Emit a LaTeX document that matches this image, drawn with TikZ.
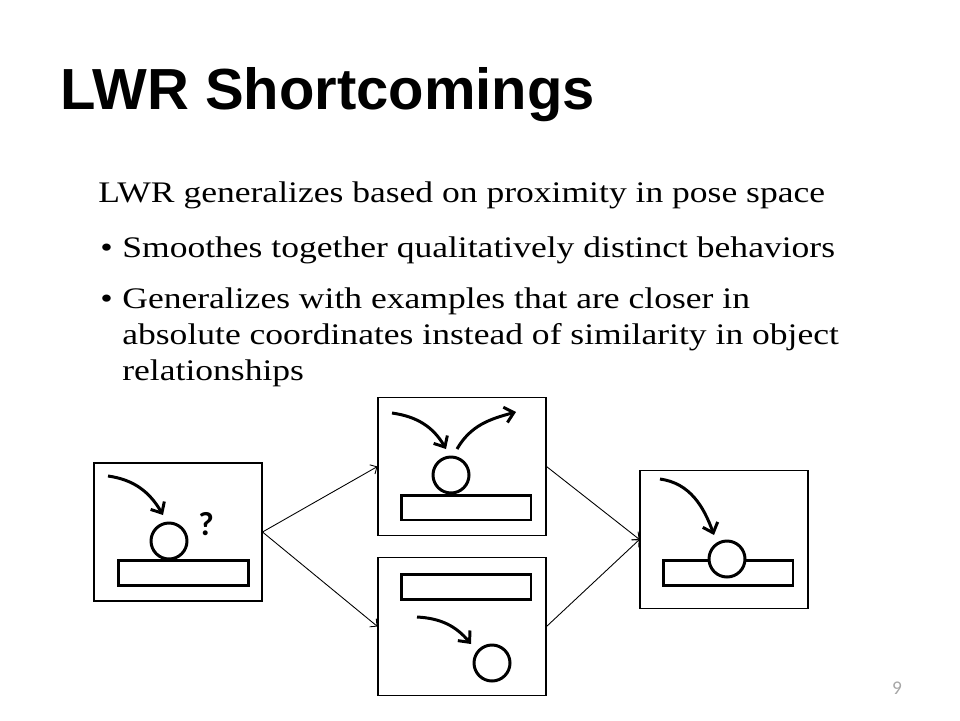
\documentclass[tikz,border=0pt]{standalone}
\usepackage{fontspec}
\setmainfont[FakeStretch=1.19]{Liberation Serif}
\newfontfamily\headfont{Liberation Sans}
\newfontfamily\smallfont{Carlito}
\usetikzlibrary{arrows.meta}
\begin{document}
\begin{tikzpicture}[x=0.02cm, y=-0.02cm,
    panel/.style={draw, line width=0.6pt, minimum width=3.36cm, minimum height=2.76cm, inner sep=0pt},
    bar/.style={draw, fill=white, line width=1.7pt, minimum width=2.6cm, minimum height=0.5cm, inner sep=0pt},
    ball/.style={draw, circle, fill=white, line width=1.7pt, minimum size=0.72cm, inner sep=0pt},
    move/.style={line width=1.7pt, -{Straight Barb[length=5pt,width=9pt]}},
    link/.style={line width=0.5pt, -{Straight Barb[length=3pt,width=6pt]}},
    body/.style={anchor=base west, inner sep=0pt, font=\fontsize{17}{20}\selectfont}]
    \useasboundingbox (0,0) rectangle (960,720);
    % title and bullet text
    \node[anchor=base west, inner sep=0pt, font=\headfont\bfseries\fontsize{33}{38}\selectfont] (title) at (60,109) {LWR Shortcomings};
    \node[body] (intro) at (98,202) {LWR generalizes based on proximity in pose space};
    \node[body] (dotA) at (100,257) {\textbullet};
    \node[body] (itemA) at (122,257) {Smoothes together qualitatively distinct behaviors};
    \node[body] (dotB) at (100,308) {\textbullet};
    \node[body] (itemB) at (122,308) {Generalizes with examples that are closer in};
    \node[body] (itemBb) at (122,344) {absolute coordinates instead of similarity in object};
    \node[body] (itemBc) at (122,380) {relationships};
    % panels
    \node[panel] (query) at (178,532) {};
    \node[panel] (near) at (462,466.5) {};
    \node[panel] (far) at (462,626.5) {};
    \node[panel] (result) at (724,539.5) {};
    \draw[link] (query.east) -- (near.west);
    \draw[link] (query.east) -- (far.west);
    \draw[link] (near.east) -- (result.west);
    \draw[link] (far.east) -- (result.west);
    % query: ball on the table
    \node[bar] (tableA) at (183.5,573) {};
    \node[ball] (ballA) at (169,541) {};
    \draw[move] (108,476) to[out=-8, in=120] (163,515);
    \node[font=\smallfont\bfseries\fontsize{19}{22}\selectfont] (ask) at (206,524) {?};
    % near: ball bounces off
    \node[bar] (tableB) at (466,507.5) {};
    \node[ball] (ballB) at (451,475) {};
    \draw[move] (392,413) to[out=-8, in=120] (446,449);
    \draw[move] (457,449) to[out=60, in=195] (516,412);
    % far: table above, ball below
    \node[bar] (tableC) at (466,587) {};
    \draw[move] (417,617) to[out=-3, in=130] (471,644);
    \node[ball] (ballC) at (492,663) {};
    % result: ball through the table
    \node[bar] (tableD) at (728,573) {};
    \node[ball] (ballD) at (727,559) {};
    \draw[move] (660,479) to[out=-8, in=110] (714,535);
    \node[font=\smallfont\fontsize{11}{13}\selectfont, text=gray!70] (page) at (897,688) {9};
\end{tikzpicture}
\end{document}
